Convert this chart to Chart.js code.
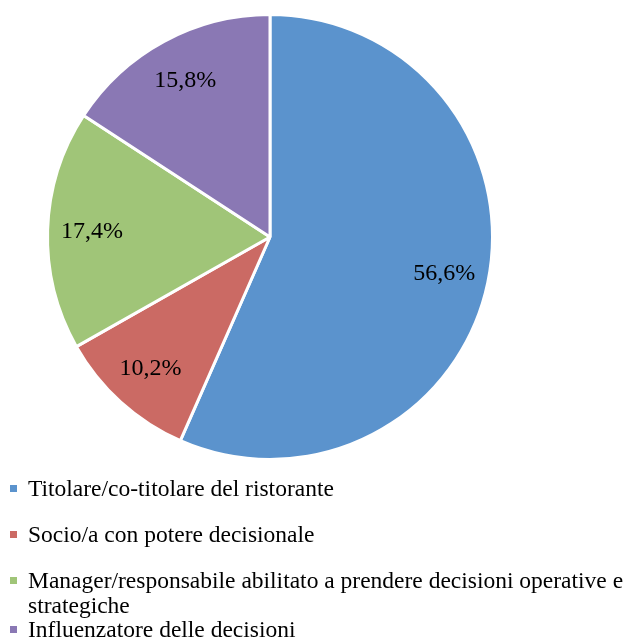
<!DOCTYPE html>
<html>
<head>
<meta charset="utf-8">
<script src="https://cdn.jsdelivr.net/npm/chart.js@4.4.0/dist/chart.umd.min.js"></script>
<style>
  html, body { margin: 0; padding: 0; background: #fff; }
  #wrap { width: 635px; height: 639px; position: relative; }
</style>
</head>
<body>
<div id="wrap"><canvas id="myChart"></canvas></div>
<script>
// Dati del grafico
const categorie = [
    'Titolare/co-titolare del ristorante',
    'Socio/a con potere decisionale',
    'Manager/responsabile abilitato a prendere decisioni operative e strategiche',
    'Influenzatore delle decisioni'
];
const valori = [56.6, 10.2, 17.4, 15.8];
const etichette = ['56,6%', '10,2%', '17,4%', '15,8%'];
const colori = ['#5B93CD', '#CB6A64', '#A0C578', '#8A78B4'];
// righe della legenda (la terza va a capo)
const righeLegenda = [
    ['Titolare/co-titolare del ristorante'],
    ['Socio/a con potere decisionale'],
    ['Manager/responsabile abilitato a prendere decisioni operative e', 'strategiche'],
    ['Influenzatore delle decisioni']
];

const FONT = '"Liberation Serif", "Times New Roman", serif';

// Plugin per le percentuali dentro le fette
const etichettePlugin = {
    id: 'etichette',
    afterDatasetsDraw(chart) {
        const ctx = chart.ctx;
        const meta = chart.getDatasetMeta(0);
        ctx.save();
        ctx.font = '24px ' + FONT;
        ctx.fillStyle = '#000';
        ctx.textAlign = 'center';
        ctx.textBaseline = 'middle';
        meta.data.forEach((arc, i) => {
            const mid = (arc.startAngle + arc.endAngle) / 2;
            const r = arc.outerRadius * 0.8;
            ctx.fillText(etichette[i], arc.x + Math.cos(mid) * r, arc.y + Math.sin(mid) * r);
        });
        ctx.restore();
    }
};

// Plugin per la legenda in basso
const legendaPlugin = {
    id: 'legenda',
    afterDraw(chart) {
        const ctx = chart.ctx;
        ctx.save();
        ctx.font = '23.5px ' + FONT;
        ctx.textBaseline = 'middle';
        const yRighe = [490, 536, 582, 631];
        righeLegenda.forEach((righe, i) => {
            ctx.fillStyle = colori[i];
            ctx.fillRect(10, yRighe[i] - 5, 7, 7);
            ctx.fillStyle = '#000';
            righe.forEach((t, j) => {
                ctx.fillText(t, 28, yRighe[i] + j * 25);
            });
        });
        ctx.restore();
    }
};

const ctx = document.getElementById('myChart').getContext('2d');
new Chart(ctx, {
    type: 'pie',
    data: {
        labels: categorie,
        datasets: [{
            data: valori,
            backgroundColor: colori,
            borderColor: '#fff',
            borderWidth: 3
        }]
    },
    options: {
        responsive: true,
        maintainAspectRatio: false,
        animation: false,
        layout: {
            padding: { left: 46, right: 141, top: 13, bottom: 178 }
        },
        plugins: {
            legend: { display: false },
            tooltip: { enabled: false }
        }
    },
    plugins: [etichettePlugin, legendaPlugin]
});
</script>
</body>
</html>
